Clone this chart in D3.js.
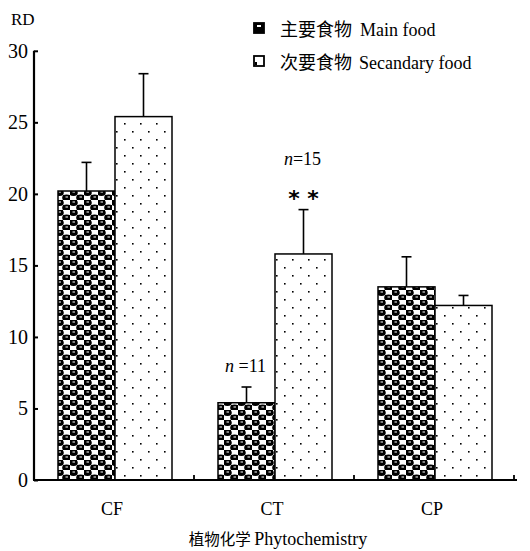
<!DOCTYPE html>
<html><head><meta charset="utf-8">
<script src="https://cdn.jsdelivr.net/npm/d3@7"></script>
<style>body{margin:0;background:#fff}svg{display:block}</style>
</head><body>
<svg id="c" width="530" height="551"></svg>
<script>
const categories = ["CF", "CT", "CP"];
const seriesCn = ["主要食物", "次要食物"];
const seriesEn = ["Main food", "Secandary food"];
const mainValues = [20.2, 5.4, 13.5];
const mainErrors = [2.0, 1.1, 2.1];
const secValues = [25.4, 15.8, 12.2];
const secErrors = [3.0, 3.1, 0.7];
const yTicks = [0, 5, 10, 15, 20, 25, 30];

const svg = d3.select("#c");
const serif = "'Liberation Serif', 'Times New Roman', serif";
const cjk = "'Noto Sans CJK SC', sans-serif";

const defs = svg.append("defs");
const p1 = defs.append("pattern").attr("id","pMain").attr("patternUnits","userSpaceOnUse")
  .attr("width",14).attr("height",10);
p1.append("rect").attr("width",14).attr("height",10).attr("fill","#fff");
p1.append("rect").attr("x",0).attr("y",0).attr("width",7).attr("height",5).attr("fill","#000");
p1.append("rect").attr("x",7).attr("y",5).attr("width",7).attr("height",5).attr("fill","#000");
p1.append("ellipse").attr("cx",3.5).attr("cy",2.8).attr("rx",4.3).attr("ry",3.3).attr("fill","#000");
p1.append("ellipse").attr("cx",10.5).attr("cy",7.8).attr("rx",4.3).attr("ry",3.3).attr("fill","#000");
p1.append("rect").attr("x",2.5).attr("y",1.5).attr("width",2.5).attr("height",1).attr("fill","#fff");
p1.append("rect").attr("x",9.5).attr("y",6.5).attr("width",2.5).attr("height",1).attr("fill","#fff");
const p2 = defs.append("pattern").attr("id","pSec").attr("patternUnits","userSpaceOnUse")
  .attr("width",16).attr("height",16);
p2.append("rect").attr("width",16).attr("height",16).attr("fill","#fff");
p2.append("rect").attr("x",4).attr("y",3).attr("width",1.6).attr("height",1.6).attr("fill","#000");
p2.append("rect").attr("x",12).attr("y",11).attr("width",1.6).attr("height",1.6).attr("fill","#000");

const x0 = d3.scaleBand().domain(categories).range([34, 514]).padding(0);
const x1 = d3.scaleBand().domain([0,1]).range([24, 138]).padding(0);
const y = d3.scaleLinear().domain([0, 30]).range([480, 50.8]);

const fills = ["url(#pMain)", "url(#pSec)"];
const series = [
  {vals: mainValues, errs: mainErrors},
  {vals: secValues, errs: secErrors}
];

series.forEach((s, si) => {
  const g = svg.append("g");
  categories.forEach((c, i) => {
    const bx = x0(c) + x1(si);
    const w = x1.bandwidth();
    const top = s.vals[i] + s.errs[i];
    const cx = bx + w/2;
    g.append("line").attr("x1",cx).attr("x2",cx).attr("y1",y(s.vals[i])).attr("y2",y(top))
      .attr("stroke","#000").attr("stroke-width",1.6);
    g.append("line").attr("x1",cx-5).attr("x2",cx+5).attr("y1",y(top)).attr("y2",y(top))
      .attr("stroke","#000").attr("stroke-width",1.6);
    g.append("rect").attr("x",bx).attr("y",y(s.vals[i])).attr("width",w)
      .attr("height",y(0)-y(s.vals[i])).attr("fill",fills[si])
      .attr("stroke","#000").attr("stroke-width",1.5);
  });
});

// y axis
const yAxis = d3.axisRight(y).tickValues(yTicks).tickSize(4).tickFormat("");
const ya = svg.append("g").attr("transform","translate(34,0)").call(yAxis);
ya.select(".domain").attr("stroke-width",2.2).attr("d","M0,"+y(30)+"V"+y(0));
ya.selectAll(".tick line").attr("stroke-width",2);
svg.append("g").selectAll("text").data(yTicks).join("text")
  .attr("x",28).attr("y",d=>y(d)+7).attr("text-anchor","end")
  .style("font-family",serif).style("font-size","20px").text(d=>d);

// x axis
const xa = svg.append("g").attr("transform","translate(0,480)");
xa.append("line").attr("x1",33).attr("x2",517).attr("y1",0).attr("y2",0)
  .attr("stroke","#000").attr("stroke-width",2.2);
const bounds = categories.map(c => x0(c) + x0.bandwidth());
xa.selectAll("line.tk").data(bounds).join("line").attr("class","tk")
  .attr("x1",d=>d).attr("x2",d=>d).attr("y1",0).attr("y2",-5)
  .attr("stroke","#000").attr("stroke-width",1.8);
svg.append("g").selectAll("text").data(categories).join("text")
  .attr("x",c=>x0(c)+x0.bandwidth()/2 - 2).attr("y",515).attr("text-anchor","middle")
  .style("font-family",serif).style("font-size","18px").text(c=>c);

// axis titles
svg.append("text").attr("x",11).attr("y",25).style("font-family",serif).style("font-size","17px").text("RD");
const t = svg.append("text").attr("x",278).attr("y",545).attr("text-anchor","middle");
t.append("tspan").style("font-family",cjk).style("font-size","15.5px").text("植物化学 ");
t.append("tspan").style("font-family",serif).style("font-size","18px").text("Phytochemistry");

// legend
const lg = svg.append("g");
seriesCn.forEach((n, i) => {
  const ly = 28 + i*33;
  lg.append("rect").attr("x",254).attr("y",ly-5).attr("width",10).attr("height",10)
    .attr("fill", i===0 ? "#000" : "#fff").attr("stroke","#000").attr("stroke-width",1.8);
  if (i===0) lg.append("rect").attr("x",257).attr("y",ly-3).attr("width",4).attr("height",2).attr("fill","#fff");
  else lg.append("rect").attr("x",255).attr("y",ly+1).attr("width",2).attr("height",3).attr("fill","#000");
  lg.append("text").attr("x",280).attr("y",ly+8).style("font-family",cjk).style("font-size","18px").text(n);
  lg.append("text").attr("x", i===1 ? 359 : 360).attr("y",ly+8).style("font-family",serif).style("font-size","18px").text(seriesEn[i]);
});

// annotations
const ann = [
  {cat:"CT", s:0, v: mainValues[1]+mainErrors[1], n:"11", sp:" "},
  {cat:"CT", s:1, v: secValues[1]+secErrors[1], n:"15", sp:""}
];
ann.forEach(a => {
  const cx = x0(a.cat) + x1(a.s) + x1.bandwidth()/2;
  const off = a.s === 1 ? 45 : 15;
  const tt = svg.append("text").attr("x",cx-1).attr("y",y(a.v)-off).attr("text-anchor","middle")
    .style("font-family",serif).style("font-size","18px");
  tt.append("tspan").style("font-style","italic").text("n");
  tt.append("tspan").text(a.sp + "=" + a.n);
});
{
  const cx = x0("CT") + x1(1) + x1.bandwidth()/2;
  svg.append("text").attr("x",cx).attr("y",y(secValues[1]+secErrors[1])-4)
    .attr("text-anchor","middle").style("font-family","'DejaVu Sans', sans-serif")
    .style("font-weight","bold").style("font-size","22px").text("* *");
}
</script>
</body></html>
